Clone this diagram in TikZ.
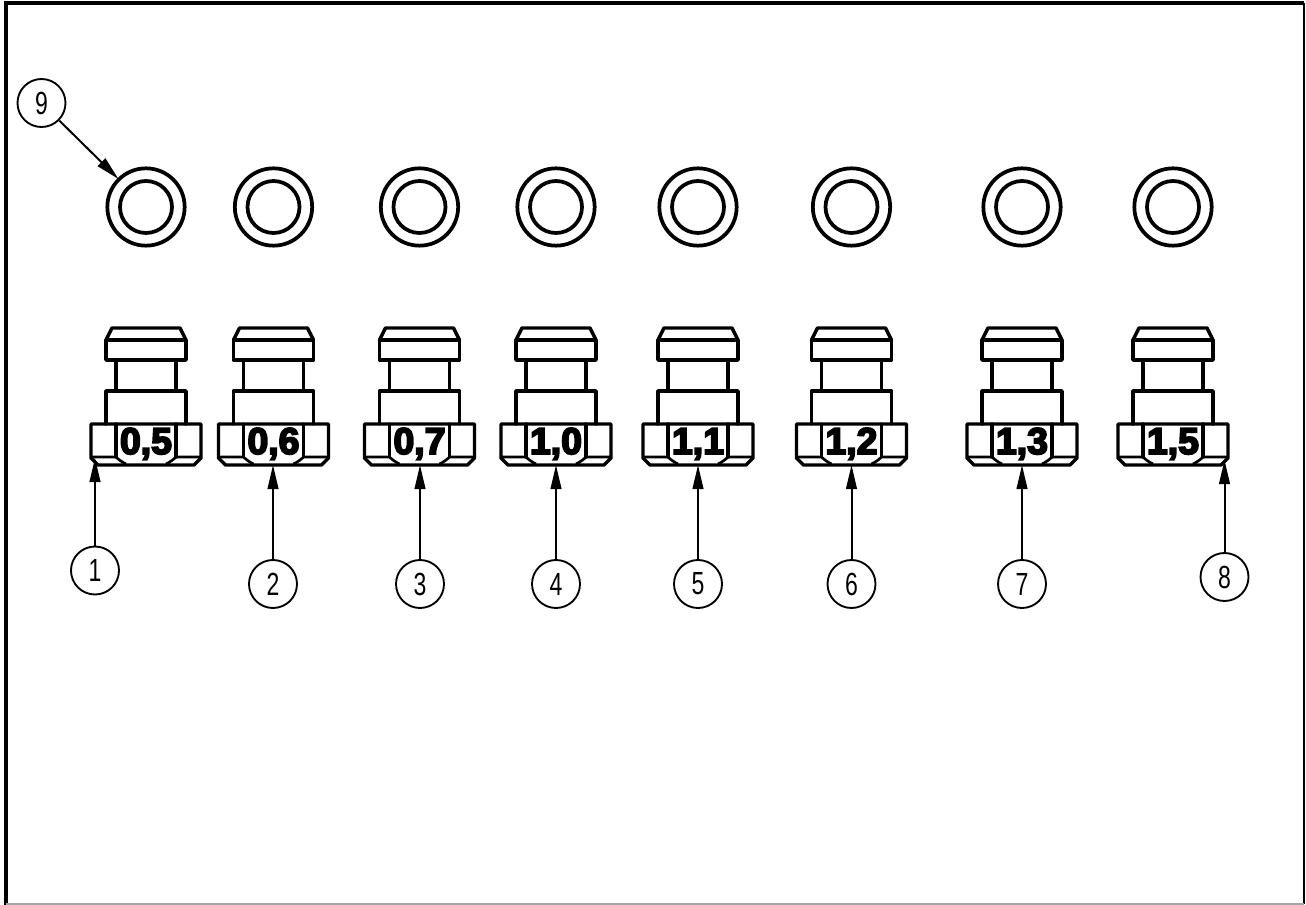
\documentclass[tikz,border=0pt]{standalone}
\usepackage{fontspec}
\setmainfont{Liberation Sans}
\newfontfamily\nozzlefont[FakeBold=5]{Liberation Sans Bold}
\newfontfamily\balloonfont[FakeStretch=0.72]{Liberation Sans}
\usetikzlibrary{arrows.meta}
\tikzset{
  part/.style={line width=2.6pt,line join=round,line cap=round},
  thinpart/.style={line width=2pt,line join=round},
  ring/.style={draw,circle,line width=2.8pt,inner sep=0pt},
  balloon/.style={draw,circle,line width=1.4pt,minimum size=36pt,inner sep=0pt,font=\balloonfont\fontsize{24}{24}\selectfont},
  leader/.style={line width=1.5pt,-{Triangle[length=18pt,width=8pt]}},
  sizelabel/.style={inner sep=0pt,anchor=base,font=\nozzlefont\fontsize{28}{28}\selectfont},
}
\begin{document}
\begin{tikzpicture}[x=0.75pt,y=-0.75pt]
\useasboundingbox (0,0) rectangle (1306,905);
% frame
\draw[line width=3pt] (5.5,905) -- (5.5,3) -- (1304,3);
\draw[line width=1.2pt] (1304,3) -- (1304,904);
\draw[line width=1.2pt,gray!70] (5.5,904) -- (1304,904);
% nozzles
\foreach \cx/\txt/\n in {146/{0,5}/1,273.5/{0,6}/2,419.5/{0,7}/3,556/{1,0}/4,698/{1,1}/5,851.5/{1,2}/6,1022/{1,3}/7,1173/{1,5}/8}{
  \begin{scope}[shift={(\cx,0)}]
    \node[ring,minimum size=58pt] (outer\n) at (0,207) {};
    \node[ring,minimum size=39pt] (inner\n) at (0,207) {};
    % head
    \draw[part] (-40,340) -- (-34,328) -- (34,328) -- (40,340);
    \draw[part] (-40,340) rectangle (40,360);
    % neck
    \draw[part] (-30,360) -- (-30,391) (30,360) -- (30,391);
    % collar
    \draw[part] (-40,424) -- (-40,391) -- (40,391) -- (40,424);
    % nut
    \draw[part] (-30,424) -- (-55,424) -- (-55,458) -- (-48,465) -- (48,465) -- (55,458) -- (55,424) -- (30,424) -- cycle;
    \draw[part] (-30,424) -- (-30,457) (30,424) -- (30,457);
    \draw[thinpart] (-55,457) -- (-30,457) .. controls (-27,460) and (-24,462) .. (-20,464)
       (55,457) -- (30,457) .. controls (27,460) and (24,462) .. (20,464);
    \node[sizelabel] (size\n) at (0,454) {\txt};
  \end{scope}
}
% balloons
\node[balloon] (b1) at (95,570.5) {1};
\node[balloon] (b2) at (273,584) {2};
\node[balloon] (b3) at (420,584) {3};
\node[balloon] (b4) at (556,584) {4};
\node[balloon] (b5) at (698,584) {5};
\node[balloon] (b6) at (851.5,584) {6};
\node[balloon] (b7) at (1022,584) {7};
\node[balloon] (b8) at (1224.5,577) {8};
\node[balloon] (b9) at (41.5,103) {9};
% arrow targets
\coordinate (t1) at (95,458);
\coordinate (t2) at (273,465);
\coordinate (t3) at (420,465);
\coordinate (t4) at (556,465);
\coordinate (t5) at (698,465);
\coordinate (t6) at (851.5,465);
\coordinate (t7) at (1022,465);
\coordinate (t8) at (1224.5,460);
\foreach \i in {1,...,8}{\draw[leader] (b\i) -- (t\i);}
\coordinate (t9) at (118.5,179);
\draw[leader] (b9) -- (t9);
\end{tikzpicture}
\end{document}
